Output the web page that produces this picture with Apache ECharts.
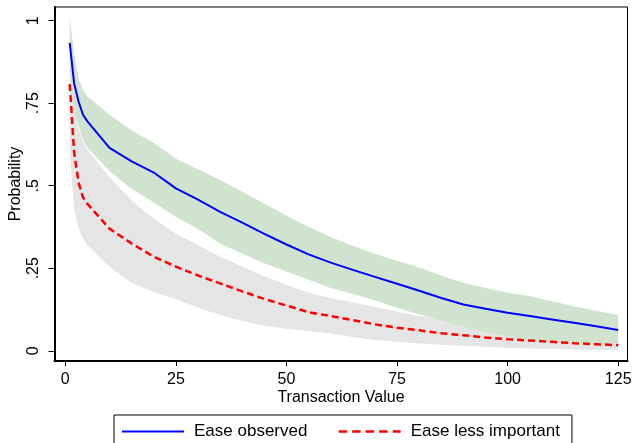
<!DOCTYPE html>
<html>
<head>
<meta charset="utf-8">
<script src="https://cdn.jsdelivr.net/npm/echarts@6/dist/echarts.min.js"></script>
<style>
  html, body { margin: 0; padding: 0; background: #fff; }
  #chart { width: 634px; height: 443px; }
</style>
</head>
<body>
<div id="chart"></div>
<script>
// Transaction values at which the predicted probabilities were evaluated
const transactionValue = [1, 2, 3, 4, 5, 10, 15, 20, 25, 30, 35, 40, 45, 50, 55, 60,
  65, 70, 75, 80, 85, 90, 95, 100, 105, 110, 115, 120, 125];

// Ease observed: predicted probability and 95% confidence band
const observedMid = [0.933, 0.81, 0.755, 0.715, 0.695, 0.615, 0.574, 0.54, 0.492, 0.458,
  0.421, 0.388, 0.354, 0.322, 0.292, 0.267, 0.245, 0.224, 0.203, 0.182, 0.16, 0.14,
  0.127, 0.115, 0.105, 0.095, 0.085, 0.074, 0.063];
const observedUpper = [1.01, 0.9, 0.825, 0.79, 0.77, 0.715, 0.667, 0.63, 0.582, 0.55,
  0.517, 0.482, 0.446, 0.41, 0.375, 0.345, 0.318, 0.294, 0.273, 0.252, 0.228, 0.206,
  0.19, 0.176, 0.166, 0.15, 0.135, 0.121, 0.108];
const observedLower = [0.84, 0.73, 0.68, 0.64, 0.615, 0.545, 0.49, 0.45, 0.405, 0.37,
  0.325, 0.295, 0.265, 0.24, 0.215, 0.19, 0.172, 0.152, 0.13, 0.11, 0.092, 0.073,
  0.057, 0.043, 0.033, 0.026, 0.021, 0.017, 0.015];

// Ease less important: predicted probability and 95% confidence band
const lessImportantMid = [0.808, 0.6, 0.51, 0.465, 0.445, 0.37, 0.325, 0.285, 0.255, 0.228,
  0.204, 0.18, 0.157, 0.137, 0.117, 0.105, 0.093, 0.08, 0.07, 0.062, 0.053, 0.047,
  0.04, 0.035, 0.031, 0.027, 0.023, 0.02, 0.017];
const lessImportantUpper = [0.83, 0.74, 0.67, 0.635, 0.61, 0.525, 0.455, 0.4, 0.355, 0.32,
  0.285, 0.255, 0.226, 0.2, 0.176, 0.16, 0.146, 0.133, 0.118, 0.105, 0.095, 0.085,
  0.075, 0.067, 0.06, 0.053, 0.047, 0.042, 0.038];
const lessImportantLower = [0.6, 0.43, 0.37, 0.34, 0.32, 0.255, 0.205, 0.178, 0.157, 0.13,
  0.108, 0.09, 0.076, 0.067, 0.06, 0.052, 0.042, 0.033, 0.027, 0.022, 0.018, 0.015,
  0.012, 0.009, 0.007, 0.005, 0.004, 0.003, 0.002];

// Axis ticks and their labels
const xTicks = [0, 25, 50, 75, 100, 125];
const yTicks = [0, 0.25, 0.5, 0.75, 1];
const yTickLabels = ['0', '.25', '.5', '.75', '1'];

const seriesNames = ['Ease observed', 'Ease less important'];

const FONT = "'Liberation Sans', Arial, sans-serif";

function points(ys) {
  return transactionValue.map((x, i) => [x, ys[i]]);
}

// Confidence band as one filled polygon: upper edge left to right, lower edge back
function bandSeries(upper, lower, color) {
  return {
    type: 'custom',
    silent: true,
    animation: false,
    data: transactionValue.map((x, i) => [x, lower[i], upper[i]]),
    encode: { x: 0, y: [1, 2] },
    renderItem: (params, api) => {
      if (params.dataIndex !== 0) return null;
      const top = transactionValue.map((x, i) => api.coord([x, upper[i]]));
      const bottom = transactionValue.map((x, i) => api.coord([x, lower[i]])).reverse();
      return {
        type: 'polygon',
        shape: { points: top.concat(bottom) },
        style: { fill: color, stroke: null }
      };
    }
  };
}

const chart = echarts.init(document.getElementById('chart'), null, { renderer: 'canvas' });

chart.setOption({
  backgroundColor: '#ffffff',
  animation: false,
  textStyle: { fontFamily: FONT },
  grid: {
    left: 54.5, right: 6.5, top: 7, bottom: 82,
    containLabel: false,
    outerBoundsMode: 'none',
    show: true, borderColor: '#000', borderWidth: 1, backgroundColor: 'transparent'
  },
  xAxis: {
    type: 'value',
    min: -2.44, max: 127.1,
    name: 'Transaction Value',
    nameLocation: 'middle',
    nameGap: 29,
    nameMoveOverlap: false,
    nameTextStyle: { fontSize: 16, color: '#000', fontFamily: FONT },
    splitLine: { show: false },
    axisLine: { show: true, onZero: false, lineStyle: { color: '#000', width: 2 } },
    axisTick: { show: true, length: 5, customValues: xTicks, lineStyle: { color: '#000', width: 1 } },
    axisLabel: {
      customValues: xTicks, margin: 11, fontSize: 16, color: '#000', fontFamily: FONT
    }
  },
  yAxis: {
    type: 'value',
    min: -0.031, max: 1.0415,
    name: 'Probability',
    nameLocation: 'middle',
    nameGap: 31,
    nameMoveOverlap: false,
    nameTextStyle: { fontSize: 16, color: '#000', fontFamily: FONT },
    splitLine: { show: false },
    axisLine: { show: true, onZero: false, lineStyle: { color: '#000', width: 2 } },
    axisTick: { show: true, length: 6, customValues: yTicks, lineStyle: { color: '#000', width: 1 } },
    axisLabel: {
      customValues: yTicks, rotate: 90, margin: 13, fontSize: 16, color: '#000', fontFamily: FONT,
      formatter: (v) => yTickLabels[yTicks.indexOf(v)] ?? ''
    }
  },
  legend: {
    data: [
      { name: seriesNames[0] },
      { name: seriesNames[1], lineStyle: { type: [8.5, 5], width: 2.5 } }
    ],
    left: 114, top: 415,
    orient: 'horizontal',
    padding: [8, 12, 30, 7],
    itemGap: 30,
    itemWidth: 62,
    itemHeight: 14,
    borderColor: '#000',
    borderWidth: 1,
    backgroundColor: '#fff',
    itemStyle: { opacity: 0 },
    textStyle: { fontSize: 17, color: '#000', fontFamily: FONT, padding: [0, 0, 0, 5] }
  },
  series: [
    bandSeries(lessImportantUpper, lessImportantLower, '#e5e5e5'),
    bandSeries(observedUpper, observedLower, '#cfe3cf'),
    {
      name: seriesNames[1], type: 'line', data: points(lessImportantMid), symbol: 'none',
      lineStyle: { color: '#ff0000', width: 2.5, type: [7, 4] },
      itemStyle: { color: '#ff0000' }
    },
    {
      name: seriesNames[0], type: 'line', data: points(observedMid), symbol: 'none',
      lineStyle: { color: '#0000ff', width: 2 },
      itemStyle: { color: '#0000ff' }
    }
  ]
});
</script>
</body>
</html>
